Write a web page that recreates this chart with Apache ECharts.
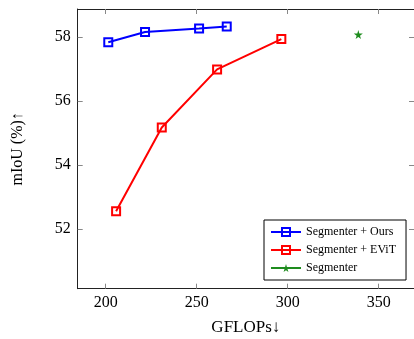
<!DOCTYPE html>
<html>
<head>
    <meta charset="utf-8">
    <script src="https://cdn.jsdelivr.net/npm/echarts@6/dist/echarts.min.js"></script>
</head>
<body style="margin:0">
<div id="main" style="width: 414px;height:339px;"></div>
<script type="text/javascript">
    // data
    var oursFlops = [201.4, 221.6, 251.3, 266.5];
    var oursMiou = [57.84, 58.16, 58.27, 58.33];
    var evitFlops = [205.7, 230.8, 261.2, 296.5];
    var evitMiou = [52.55, 55.17, 56.99, 57.94];
    var baseFlops = [338.8];
    var baseMiou = [58.08];
    var xTicks = [200, 250, 300, 350];
    var yTicks = [52, 54, 56, 58];

    function pairs(xs, ys) {
        return xs.map(function (x, i) { return [x, ys[i]]; });
    }

    var serif = 'Liberation Serif';
    var star = 'path://M50,0 L61,35 L98,35 L68,57 L79,91 L50,70 L21,91 L32,57 L2,35 L39,35 Z';

    var tickStyle = { inside: true, length: 5, lineStyle: { color: '#888', width: 1 } };
    var lineAxis = { show: true, lineStyle: { color: '#222', width: 1 } };

    var myChart = echarts.init(document.getElementById('main'));
    var option = {
        animation: false,
        grid: { left: 77.7, top: 9, right: 0, bottom: 50.3, outerBoundsMode: 'none' },
        xAxis: [{
            type: 'value', min: 184.6, max: 369.4, position: 'bottom',
            name: 'GFLOPs\u2193', nameLocation: 'middle', nameGap: 30,
            nameTextStyle: { fontFamily: serif, fontSize: 17, color: '#000' },
            axisLine: lineAxis,
            axisTick: Object.assign({ customValues: xTicks }, tickStyle),
            axisLabel: { customValues: xTicks, fontFamily: serif, fontSize: 16, color: '#000', margin: 6 },
            splitLine: { show: false }
        }, {
            type: 'value', min: 184.6, max: 369.4, position: 'top',
            axisLine: lineAxis,
            axisTick: Object.assign({ customValues: xTicks }, tickStyle),
            axisLabel: { show: false },
            splitLine: { show: false }
        }],
        yAxis: [{
            type: 'value', min: 50.125, max: 58.88, position: 'left',
            name: 'mIoU (%)\u2191', nameLocation: 'middle', nameGap: 52,
            nameTextStyle: { fontFamily: serif, fontSize: 16, color: '#000' },
            axisLine: lineAxis,
            axisTick: Object.assign({ customValues: yTicks }, tickStyle),
            axisLabel: { customValues: yTicks, fontFamily: serif, fontSize: 16, color: '#000', margin: 7 },
            splitLine: { show: false }
        }, {
            type: 'value', min: 50.125, max: 58.88, position: 'right',
            axisLine: lineAxis,
            axisTick: Object.assign({ customValues: yTicks }, tickStyle),
            axisLabel: { show: false },
            splitLine: { show: false }
        }],
        legend: {
            orient: 'vertical', left: 264, top: 220,
            backgroundColor: '#fff', borderColor: '#000', borderWidth: 1,
            padding: [6, 10, 6, 6], itemGap: 6,
            itemWidth: 30, itemHeight: 10,
            textStyle: { fontFamily: serif, fontSize: 12, color: '#000' },
            data: ['Segmenter + Ours', 'Segmenter + EViT', 'Segmenter']
        },
        series: [{
            name: 'Segmenter + Ours', type: 'line',
            data: pairs(oursFlops, oursMiou),
            symbol: 'rect', symbolSize: 8,
            lineStyle: { color: '#0000ff', width: 2 },
            itemStyle: { color: 'rgba(255,255,255,0)', borderColor: '#0000ff', borderWidth: 2 }
        }, {
            name: 'Segmenter + EViT', type: 'line',
            data: pairs(evitFlops, evitMiou),
            symbol: 'rect', symbolSize: 8,
            lineStyle: { color: '#ff0000', width: 2 },
            itemStyle: { color: 'rgba(255,255,255,0)', borderColor: '#ff0000', borderWidth: 2 }
        }, {
            name: 'Segmenter', type: 'line',
            data: pairs(baseFlops, baseMiou),
            symbol: star, symbolSize: 9,
            lineStyle: { color: '#1e8c1e', width: 2 },
            itemStyle: { color: '#1e8c1e', borderColor: '#1e8c1e', borderWidth: 0 }
        }]
    };
    myChart.setOption(option);
</script>
</body>
</html>
